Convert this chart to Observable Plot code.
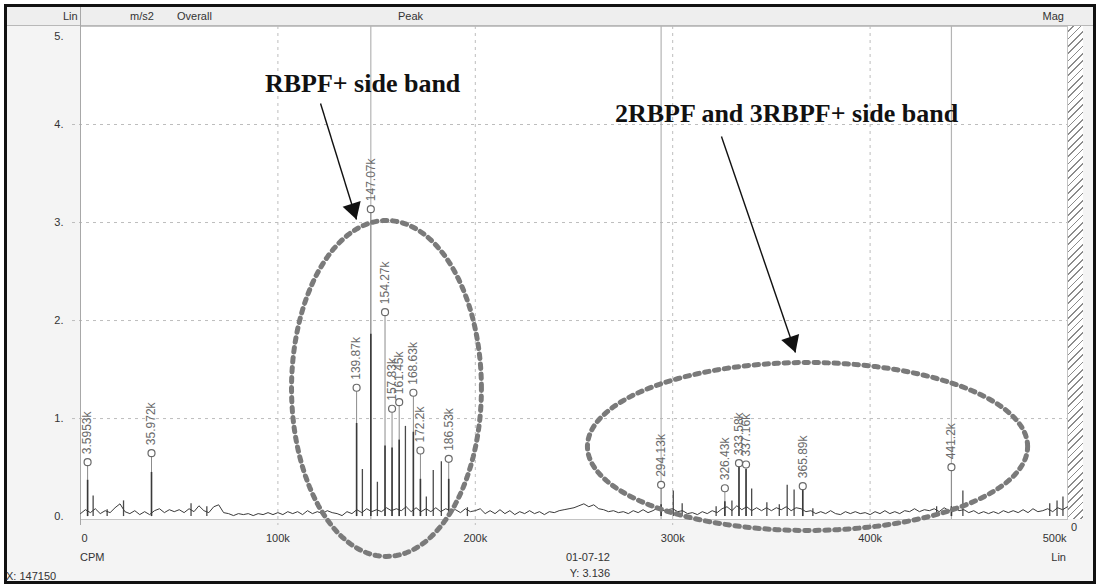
<!DOCTYPE html>
<html>
<head>
<meta charset="utf-8">
<script src="https://cdn.jsdelivr.net/npm/d3@7"></script>
<script src="https://cdn.jsdelivr.net/npm/@observablehq/plot@0.6"></script>
<style>
  body { margin: 0; background: #fff; }
  #wrap { position: relative; width: 1100px; height: 587px; overflow: hidden;
          font-family: "Liberation Sans", Arial, sans-serif; font-size: 11px; color: #333; }
  #frame { position: absolute; left: 4px; top: 4px; width: 1086px; height: 574px;
           border: 3px solid #111; background: #f4f4f4; }
  #header { position: absolute; left: 7px; top: 7px; width: 1086px; height: 18px;
            background: #eeeeee; border-bottom: 1px solid #b8b8b8; }
  #hatch { position: absolute; left: 1067px; top: 26px; width: 16px; height: 493px;
           background: repeating-linear-gradient(135deg, #fff 0 4px, #8c8c8c 4px 5.2px); }
  .lbl { position: absolute; line-height: 13px; white-space: nowrap; }
  #chart { position: absolute; left: 0; top: 0; }
</style>
</head>
<body>
<div id="wrap">
  <div id="frame"></div>
  <div id="header"></div>
  <div id="hatch"></div>
  <span class="lbl" style="left:63px;top:10px;">Lin</span>
  <span class="lbl" style="left:130px;top:10px;">m/s2</span>
  <span class="lbl" style="left:177px;top:10px;">Overall</span>
  <span class="lbl" style="left:398px;top:10px;">Peak</span>
  <span class="lbl" style="right:36px;top:10px;">Mag</span>
  <span class="lbl" style="left:80px;top:551px;">CPM</span>
  <span class="lbl" style="right:34px;top:551px;">Lin</span>
  <span class="lbl" style="right:490px;top:551px;">01-07-12</span>
  <span class="lbl" id="cursorY" style="right:490px;top:567px;"></span>
  <span class="lbl" id="cursorX" style="left:6px;top:570px;"></span>
  <span class="lbl" style="left:1071px;top:521px;">0</span>
  <div id="chart"></div>
</div>
<script>
// Spectrum amplitude (m/s2) against frequency (CPM)

// Labelled peaks: frequency, peak amplitude, and height of the dense lower part of each line
const peakFreq = [3595.3, 35972, 139870, 147070, 154270, 157830, 161450, 168630, 172200, 186530,
                  294130, 326430, 333580, 337160, 365890, 441200];
const peakAmp  = [0.555, 0.647, 1.314, 3.136, 2.085, 1.10, 1.167, 1.263, 0.674, 0.589,
                  0.324, 0.289, 0.545, 0.531, 0.31, 0.504];
const peakBody = [0.37, 0.45, 0.95, 1.86, 0.72, 0.70, 0.78, 0.86, 0.38, 0.38,
                  0.12, 0.15, 0.50, 0.48, 0.28, 0.10];

// Other spectral lines without a peak label
const lineFreq = [6400, 13500, 21800, 56000, 64000, 142800, 150400, 164600, 175200, 178700, 182800, 196000,
                  300300, 304800, 322000, 330000, 340000, 347700, 354000, 358000, 361500, 371000,
                  433700, 447000, 491000, 494700, 497700];
const lineAmp  = [0.21, 0.07, 0.16, 0.13, 0.10, 0.48, 0.35, 0.92, 0.20, 0.47, 0.56, 0.09,
                  0.26, 0.13, 0.10, 0.16, 0.28, 0.14, 0.12, 0.32, 0.27, 0.08,
                  0.10, 0.26, 0.13, 0.16, 0.20];

// Noise floor, one value every 2500 CPM from 0 to 500k
const floorStep = 2500;
const floorAmp = [
  0.03,0.07,0.04,0.08,0.03,0.06,0.04,0.09,0.13,0.05,
  0.03,0.06,0.02,0.05,0.02,0.06,0.08,0.04,0.07,0.05,
  0.07,0.04,0.08,0.05,0.11,0.06,0.04,0.10,0.12,0.04,
  0.03,0.01,0.03,0.02,0.03,0.01,0.03,0.02,0.04,0.02,
  0.04,0.02,0.05,0.03,0.05,0.02,0.06,0.03,0.05,0.03,
  0.06,0.04,0.03,0.01,0.05,0.03,0.07,0.04,0.08,0.05,
  0.07,0.05,0.09,0.06,0.08,0.06,0.10,0.05,0.09,0.05,
  0.08,0.05,0.09,0.05,0.08,0.06,0.07,0.04,0.08,0.05,
  0.06,0.08,0.03,0.06,0.03,0.07,0.03,0.06,0.02,0.05,
  0.03,0.06,0.03,0.05,0.02,0.05,0.04,0.06,0.07,0.08,
  0.09,0.11,0.13,0.10,0.12,0.08,0.07,0.05,0.06,0.04,
  0.05,0.03,0.06,0.04,0.07,0.04,0.06,0.09,0.06,0.07,
  0.08,0.05,0.06,0.03,0.04,0.02,0.05,0.03,0.06,0.04,
  0.08,0.10,0.06,0.11,0.07,0.10,0.06,0.09,0.06,0.09,
  0.06,0.09,0.07,0.10,0.06,0.09,0.08,0.05,0.06,0.03,
  0.05,0.03,0.06,0.03,0.02,0.05,0.03,0.05,0.03,0.04,
  0.02,0.05,0.03,0.06,0.03,0.05,0.03,0.06,0.05,0.08,
  0.05,0.07,0.06,0.08,0.05,0.09,0.06,0.10,0.06,0.07,
  0.04,0.06,0.03,0.05,0.03,0.05,0.03,0.06,0.04,0.06,
  0.04,0.07,0.04,0.08,0.05,0.06,0.08,0.05,0.09,0.07,
  0.10
];

// Cursor and its harmonics (1x, 2x, 3x)
const cursorX = 147150;
const cursorY = 3.136;
const harmonicFreq = [147070, 294130, 441200];

// Axes
const xTicks = [0, 100000, 200000, 300000, 400000, 500000];
const xTickLabels = ["0", "100k", "200k", "300k", "400k", "500k"];
const yTicks = [0, 1, 2, 3, 4, 5];
const yTickLabels = ["0.", "1.", "2.", "3.", "4.", "5."];
const xGrid = [100000, 200000, 300000, 400000];
const yGrid = [1, 2, 3, 4];

// Annotations (in data units)
const bandNotes = [
  {text: "RBPF+ side band", x: 142900, y: 4.42},
  {text: "2RBPF and 3RBPF+ side band", x: 357700, y: 4.11}
];
const bandEllipses = [
  {cx: 155000, cy: 1.307, rx: 48100, ry: 1.714},
  {cx: 368300, cy: 0.715, rx: 111500, ry: 0.857}
];
const bandArrows = [
  {x1: 121600, y1: 4.215, x2: 139800, y2: 3.031},
  {x1: 324700, y1: 3.878, x2: 362200, y2: 1.674}
];

// ---- layout
const W = 1100, H = 587;
const mL = 80, mR = 33, mT = 26, mB = 68;
const xDom = [0, 500000], yDom = [-0.03, 5];
const kx = (W - mL - mR) / (xDom[1] - xDom[0]);
const ky = (H - mT - mB) / (yDom[1] - yDom[0]);

const fmtK = d3.format(".5~r");
const peaks = peakFreq.map((f, i) => ({f, a: peakAmp[i], body: peakBody[i], label: fmtK(f / 1000) + "k"}));
const lines = lineFreq.map((f, i) => ({f, a: lineAmp[i]}));
const floor = floorAmp.map((a, i) => ({f: i * floorStep, a}));

const ellipsePts = e => d3.range(0, 361, 2).map(t => ({
  x: e.cx + e.rx * Math.cos(t * Math.PI / 180),
  y: e.cy + e.ry * Math.sin(t * Math.PI / 180)
}));

// arrow heads: filled triangles rotated along each arrow, pulled back so the tip lands on the end point
const headR = 7;
const heads = bandArrows.map(a => {
  const dx = (a.x2 - a.x1) * kx, dy = -(a.y2 - a.y1) * ky;
  const len = Math.hypot(dx, dy);
  const ux = dx / len, uy = dy / len;
  const back = headR * 2.693 * Math.sqrt(3) / 2 * (2 / 3);
  return {
    x: a.x2 - ux * back / kx,
    y: a.y2 + uy * back / ky,
    rot: Math.atan2(dx, -dy) * 180 / Math.PI
  };
});

document.getElementById("cursorX").textContent = "X: " + cursorX;
document.getElementById("cursorY").textContent = "Y: " + cursorY;

const chart = Plot.plot({
  width: W, height: H,
  marginLeft: mL, marginRight: mR, marginTop: mT, marginBottom: mB,
  x: {domain: xDom, axis: null},
  y: {domain: yDom, axis: null},
  style: {background: "transparent", fontFamily: "Liberation Sans, Arial, sans-serif", fontSize: "11px", overflow: "visible"},
  marks: [
    Plot.frame({fill: "white", stroke: "#c4c4c4"}),
    // grid
    Plot.ruleY(yGrid, {stroke: "#bdbdbd", strokeDasharray: "3,4", insetLeft: -8}),
    Plot.ruleX(xGrid, {stroke: "#bdbdbd", strokeDasharray: "3,4", insetBottom: -6}),
    Plot.ruleX(harmonicFreq, {stroke: "#b4b4b4", strokeWidth: 1.2}),
    Plot.ruleX([0], {stroke: "#a8a8a8", insetTop: -19, insetBottom: -6}),
    // spectrum
    Plot.ruleX(peaks, {x: "f", y1: 0, y2: "a", stroke: "#8c8c8c", strokeWidth: 1}),
    Plot.ruleX(peaks, {x: "f", y1: 0, y2: "body", stroke: "#3a3a3a", strokeWidth: 1.6}),
    Plot.ruleX(lines, {x: "f", y1: 0, y2: "a", stroke: "#4a4a4a", strokeWidth: 1.3}),
    Plot.line(floor, {x: "f", y: "a", stroke: "#3a3a3a", strokeWidth: 1}),
    Plot.dot(peaks, {x: "f", y: "a", r: 3.5, fill: "white", stroke: "#6a6a6a", strokeWidth: 1.2}),
    Plot.text(peaks, {x: "f", y: "a", text: "label", rotate: -90, textAnchor: "start", dy: -8,
                      fill: "#6a6a6a", fontSize: 12}),
    // axis labels
    Plot.text(yTicks.slice(0, 5), {x: 0, y: d => d, text: (d, i) => yTickLabels[i], textAnchor: "end", dx: -17, fill: "#333"}),
    Plot.text(yTicks.slice(5), {x: 0, y: d => d, text: (d, i) => yTickLabels[5 + i], textAnchor: "end", dx: -17, dy: 10, fill: "#333"}),
    Plot.text(xTicks.slice(0, 1), {x: d => d, frameAnchor: "bottom", text: (d, i) => xTickLabels[i], textAnchor: "start", dy: 22, dx: 1, fill: "#333"}),
    Plot.text(xTicks.slice(1, 5), {x: d => d, frameAnchor: "bottom", text: (d, i) => xTickLabels[1 + i], dy: 22, fill: "#333"}),
    Plot.text(xTicks.slice(5), {x: d => d, frameAnchor: "bottom", text: (d, i) => xTickLabels[5 + i], textAnchor: "end", dy: 22, dx: -1, fill: "#333"}),
    // side band annotations
    ...bandEllipses.map(e => Plot.line(ellipsePts(e), {x: "x", y: "y", stroke: "#7a7a7a", strokeWidth: 5, strokeDasharray: "4.5,5.5"})),
    Plot.link(bandArrows, {x1: "x1", y1: "y1", x2: "x2", y2: "y2", stroke: "#111", strokeWidth: 1.4}),
    Plot.dot(heads, {x: "x", y: "y", symbol: "triangle", r: headR, rotate: "rot", fill: "#111", stroke: "none"}),
    Plot.text(bandNotes, {x: "x", y: "y", text: "text", fontFamily: "Liberation Serif, Times New Roman, serif",
                          fontWeight: "bold", fontSize: 26, fill: "#111"})
  ]
});
document.getElementById("chart").append(chart);
</script>
</body>
</html>
